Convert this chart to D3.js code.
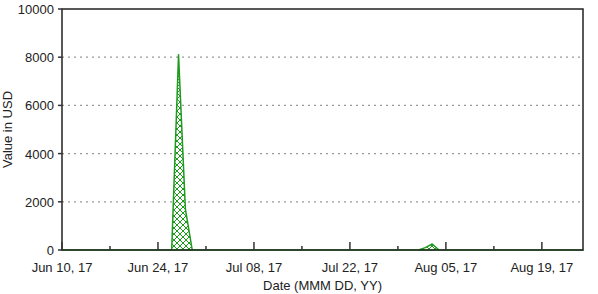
<!DOCTYPE html>
<html>
<head>
<meta charset="utf-8">
<script src="https://cdn.jsdelivr.net/npm/d3@7"></script>
<style>
  body { margin: 0; background: #fff; }
  text { font-family: "Liberation Sans", Arial, sans-serif; fill: #222; }
</style>
</head>
<body>
<div id="chart"></div>
<script>
// dates and values
var dates = ["2017-06-10", "2017-06-26", "2017-06-27", "2017-06-28", "2017-06-29",
             "2017-08-01", "2017-08-02", "2017-08-03", "2017-08-04", "2017-08-25"];
var values = [0, 0, 8100, 1700, 0, 0, 100, 250, 0, 0];
var yTicks = [0, 2000, 4000, 6000, 8000, 10000];
var xTickDates = ["2017-06-10", "2017-06-24", "2017-07-08", "2017-07-22", "2017-08-05", "2017-08-19"];
var xMinorDates = ["2017-06-17", "2017-07-01", "2017-07-15", "2017-07-29", "2017-08-12"];

var parse = d3.utcParse("%Y-%m-%d");
var fmt = d3.utcFormat("%b %d, %y");
var data = dates.map(function (d, i) { return { date: parse(d), value: values[i] }; });

var width = 598, height = 294;
var m = { left: 62, right: 15, top: 9, bottom: 44 };

var svg = d3.select("#chart").append("svg")
    .attr("width", width)
    .attr("height", height);

var x = d3.scaleUtc()
    .domain([parse("2017-06-10"), parse("2017-08-25")])
    .range([m.left, width - m.right]);
var y = d3.scaleLinear()
    .domain([0, 10000])
    .range([height - m.bottom, m.top]);

// hatch pattern
var defs = svg.append("defs");
defs.append("pattern")
    .attr("id", "hatch")
    .attr("patternUnits", "userSpaceOnUse")
    .attr("width", 6)
    .attr("height", 6)
    .append("path")
    .attr("d", "M-1,-1 L7,7 M7,-1 L-1,7")
    .attr("stroke", "#1f9a1f")
    .attr("stroke-width", 1);

// grid lines
svg.append("g")
    .selectAll("line")
    .data(yTicks.filter(function (d) { return d > 0 && d < 10000; }))
    .enter().append("line")
    .attr("x1", m.left)
    .attr("x2", width - m.right)
    .attr("y1", function (d) { return y(d); })
    .attr("y2", function (d) { return y(d); })
    .attr("stroke", "#999")
    .attr("stroke-width", 1.2)
    .attr("stroke-dasharray", "2,4");

// area
var area = d3.area()
    .x(function (d) { return x(d.date); })
    .y0(y(0))
    .y1(function (d) { return y(d.value); });

svg.append("path")
    .datum(data)
    .attr("d", area)
    .attr("fill", "url(#hatch)")
    .attr("stroke", "#1f9a1f")
    .attr("stroke-width", 1.5)
    .attr("stroke-linejoin", "round");

// frame
svg.append("rect")
    .attr("x", m.left)
    .attr("y", m.top)
    .attr("width", width - m.left - m.right)
    .attr("height", height - m.top - m.bottom)
    .attr("fill", "none")
    .attr("stroke", "#222")
    .attr("stroke-width", 1.5);

// x axis ticks (inside)
svg.append("g")
    .selectAll("line.major")
    .data(xTickDates)
    .enter().append("line")
    .attr("x1", function (d) { return x(parse(d)); })
    .attr("x2", function (d) { return x(parse(d)); })
    .attr("y1", y(0))
    .attr("y2", y(0) - 8)
    .attr("stroke", "#333")
    .attr("stroke-width", 1.5);

svg.append("g")
    .selectAll("line.minor")
    .data(xMinorDates)
    .enter().append("line")
    .attr("x1", function (d) { return x(parse(d)); })
    .attr("x2", function (d) { return x(parse(d)); })
    .attr("y1", y(0))
    .attr("y2", y(0) - 4)
    .attr("stroke", "#333")
    .attr("stroke-width", 1.5);

svg.append("g")
    .selectAll("text")
    .data(xTickDates)
    .enter().append("text")
    .text(function (d) { return fmt(parse(d)); })
    .attr("x", function (d) { return x(parse(d)); })
    .attr("y", 272)
    .attr("text-anchor", "middle")
    .style("font-size", "13px");

// y axis ticks
svg.append("g")
    .selectAll("line")
    .data(yTicks)
    .enter().append("line")
    .attr("x1", m.left - 4)
    .attr("x2", m.left)
    .attr("y1", function (d) { return y(d); })
    .attr("y2", function (d) { return y(d); })
    .attr("stroke", "#333")
    .attr("stroke-width", 1.5);

svg.append("g")
    .selectAll("text")
    .data(yTicks)
    .enter().append("text")
    .text(function (d) { return d; })
    .attr("x", m.left - 8)
    .attr("y", function (d) { return y(d) + 5; })
    .attr("text-anchor", "end")
    .style("font-size", "13px");

// axis titles
svg.append("text")
    .text("Date (MMM DD, YY)")
    .attr("x", (m.left + width - m.right) / 2)
    .attr("y", 290)
    .attr("text-anchor", "middle")
    .style("font-size", "13px");

svg.append("text")
    .text("Value in USD")
    .attr("transform", "translate(12," + ((m.top + height - m.bottom) / 2) + ") rotate(-90)")
    .attr("text-anchor", "middle")
    .style("font-size", "13px");
</script>
</body>
</html>
